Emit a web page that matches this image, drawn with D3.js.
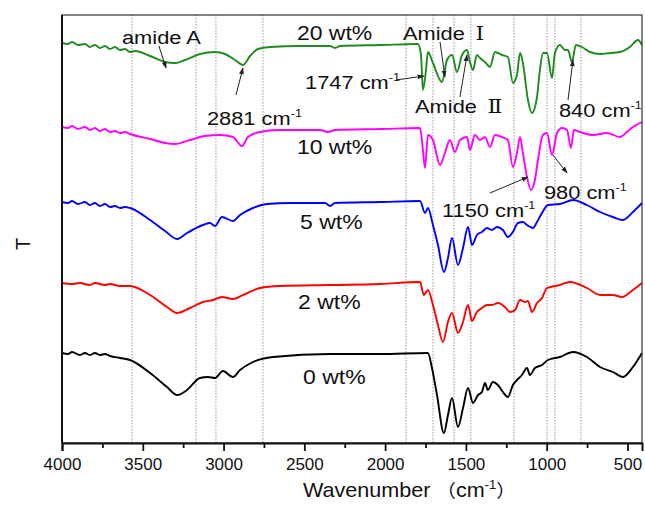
<!DOCTYPE html>
<html>
<head>
<meta charset="utf-8">
<script src="https://cdnjs.cloudflare.com/ajax/libs/d3/7.8.5/d3.min.js"></script>
<style>
body{margin:0;background:#fff;}
svg{font-family:Arial,"Liberation Sans",sans-serif;}
</style>
</head>
<body>
<script>
// spectra, [wavenumber, T] (T in arbitrary offset units)
var green=[[4000,400],[3963,399],[3938,401],[3901,398],[3858,399],[3827,396],[3796,398],[3765,395],[3734,397],[3703,394],[3672,396],[3641,393],[3610,394],[3579,391],[3548,392],[3455,387],[3362,381],[3300,380],[3239,383],[3146,389],[3053,391],[2991,389],[2929,383],[2880,378],[2836,387],[2787,394],[2713,396],[2527,397],[2341,397],[2310,395],[2279,397],[2032,398],[1797,399],[1778,388],[1766,353],[1747,373],[1735,391],[1704,380],[1648,361],[1617,383],[1586,388],[1555,371],[1524,388],[1493,393],[1475,381],[1456,373],[1432,388],[1413,385],[1382,381],[1351,376],[1320,391],[1277,388],[1240,386],[1209,360],[1184,368],[1165,390],[1147,380],[1116,343],[1091,330],[1060,346],[1042,373],[1023,390],[998,390],[967,365],[949,390],[918,398],[887,393],[868,393],[844,381],[819,398],[782,396],[732,391],[670,389],[608,390],[546,391],[485,396],[435,403],[410,398]];
var magenta=[[4000,316],[3963,315],[3938,317],[3901,314],[3858,316],[3827,313],[3796,315],[3765,312],[3734,314],[3703,311],[3672,312],[3641,310],[3610,311],[3579,309],[3455,304],[3362,300],[3300,299],[3208,303],[3115,307],[3022,308],[2942,306],[2886,297],[2849,306],[2775,311],[2651,313],[2403,313],[2354,311],[2310,313],[2032,314],[1784,315],[1766,293],[1753,275],[1735,308],[1704,303],[1660,278],[1630,290],[1599,303],[1568,291],[1537,303],[1493,306],[1475,293],[1444,308],[1413,303],[1382,306],[1351,296],[1320,308],[1277,306],[1240,303],[1209,276],[1184,290],[1165,306],[1147,290],[1122,266],[1097,253],[1073,263],[1054,283],[1023,308],[998,310],[967,288],[936,310],[905,315],[874,313],[850,295],[831,313],[794,311],[713,308],[627,310],[546,306],[503,311],[466,316],[410,321]];
var blue=[[4000,241],[3963,240],[3938,242],[3901,239],[3858,241],[3827,238],[3796,240],[3765,237],[3734,239],[3703,236],[3672,237],[3641,235],[3610,236],[3579,235],[3455,223],[3362,212],[3288,204],[3226,210],[3127,218],[3084,220],[3053,217],[3010,226],[2942,222],[2898,228],[2818,235],[2731,239],[2589,240],[2372,240],[2341,237],[2310,240],[2032,241],[1784,242],[1753,230],[1735,235],[1704,218],[1673,198],[1636,171],[1611,185],[1586,205],[1549,178],[1518,195],[1487,216],[1462,198],[1432,208],[1401,211],[1370,215],[1339,213],[1308,216],[1271,213],[1240,206],[1209,211],[1178,220],[1147,221],[1122,218],[1085,215],[1060,221],[1029,230],[992,238],[918,239],[837,243],[751,238],[670,231],[590,226],[528,223],[466,231],[410,240]];
var red=[[4000,160],[3938,159],[3889,160],[3827,158],[3796,160],[3734,158],[3703,159],[3641,157],[3579,157],[3455,148],[3350,136],[3288,130],[3208,135],[3127,141],[3065,143],[3010,146],[2942,144],[2880,148],[2775,155],[2651,157],[2341,158],[2032,159],[1784,161],[1760,148],[1735,153],[1704,138],[1673,118],[1642,101],[1611,121],[1586,130],[1549,110],[1518,121],[1487,138],[1462,122],[1432,131],[1401,135],[1370,138],[1339,138],[1302,140],[1258,136],[1227,131],[1196,133],[1165,143],[1134,141],[1116,142],[1091,131],[1060,140],[1029,145],[998,155],[918,158],[856,161],[751,155],[670,148],[590,148],[534,146],[466,153],[410,160]];
var black=[[4000,90],[3963,89],[3938,91],[3889,88],[3858,90],[3827,88],[3796,90],[3765,88],[3734,89],[3703,87],[3641,85],[3579,83],[3455,70],[3350,56],[3288,48],[3226,53],[3146,65],[3096,66],[3053,65],[3004,72],[2942,66],[2898,73],[2818,81],[2694,86],[2341,89],[2032,89],[1735,90],[1710,75],[1679,48],[1636,10],[1611,28],[1586,45],[1549,16],[1518,35],[1487,55],[1456,40],[1425,48],[1401,51],[1382,60],[1364,53],[1333,61],[1302,58],[1271,51],[1240,46],[1209,58],[1184,63],[1153,68],[1122,75],[1104,68],[1073,75],[1029,78],[992,83],[918,86],[837,91],[751,86],[670,76],[590,71],[528,66],[466,76],[410,90]];

var seriesNames=["20 wt%","10 wt%","5 wt%","2 wt%","0 wt%"];
var seriesData=[green,magenta,blue,red,black];
var seriesColors=["#1f8a1f","#ff00ff","#0000ff","#ff0000","#000000"];
// label anchor [wavenumber, T]
var seriesLabelPos=[[2546,403],[2546,289],[2527,214],[2539,134],[2508,59]];

var gridLines=[3567,3171,3047,2756,1871,1704,1574,1469,1202,998,949,788];
var majorTicks=[4000,3500,3000,2500,2000,1500,1000,500];
var minorTicks=[3750,3250,2750,2250,1750,1250,750];

// annotations: text, label [wn,T], arrow tail [wn,T], arrow tip [wn,T]
var notes=[
  {t:"amide A",sup:null,at:[3629,399],from:[3400,397],to:[3356,375]},
  {t:"2881 cm",sup:"-1",at:[3103,318],from:[2923,348],to:[2880,375]},
  {t:"1747 cm",sup:"-1",at:[2496,354],from:[1933,363],to:[1760,367]},
  {t:"Amide ",rom:"Ⅰ",at:[1890,403],from:[1660,401],to:[1630,366]},
  {t:"Amide ",rom:"Ⅱ",at:[1815,330],from:[1537,346],to:[1493,388]},
  {t:"840 cm",sup:"-1",at:[924,326],from:[868,343],to:[837,383]},
  {t:"980 cm",sup:"-1",at:[1017,244],from:[961,288],to:[874,270]},
  {t:"1150 cm",sup:"-1",at:[1648,226],from:[1351,250],to:[1116,266]}
];

var W=645,H=505;
var m={left:62,right:642,top:15,bottom:443};
var x=d3.scaleLinear().domain([4000,410]).range([m.left,m.right]);
var y=d3.scaleLinear().domain([0,428]).range([m.bottom,m.top]);

var svg=d3.select("body").append("svg").attr("width",W).attr("height",H);

var defs=svg.append("defs");
defs.append("marker").attr("id","arr")
  .attr("viewBox","0 0 10 10").attr("refX",9).attr("refY",5)
  .attr("markerWidth",7).attr("markerHeight",7)
  .attr("orient","auto-start-reverse")
  .append("path").attr("d","M0,1.5L10,5L0,8.5Z").attr("fill","#222");

// dotted verticals
svg.append("g").selectAll("line").data(gridLines).enter().append("line")
  .attr("x1",function(d){return x(d)}).attr("x2",function(d){return x(d)})
  .attr("y1",m.top).attr("y2",m.bottom)
  .attr("stroke","#9a9a9a").attr("stroke-width",1).attr("stroke-dasharray","1.5,1.5");

// spectra
var line=d3.line().x(function(d){return x(d[0])}).y(function(d){return y(d[1])}).curve(d3.curveMonotoneX);
svg.append("g").selectAll("path").data(seriesData).enter().append("path")
  .attr("d",line).attr("fill","none")
  .attr("stroke",function(d,i){return seriesColors[i]})
  .attr("stroke-width",1.9).attr("stroke-linejoin","round");

// frame
svg.append("rect").attr("x",m.left).attr("y",m.top)
  .attr("width",m.right-m.left).attr("height",m.bottom-m.top)
  .attr("fill","none").attr("stroke","#333").attr("stroke-width",1.2);
svg.append("line").attr("x1",m.left).attr("x2",m.left).attr("y1",m.top).attr("y2",m.bottom)
  .attr("stroke","#111").attr("stroke-width",2);

// bottom axis
var xAxis=d3.axisBottom(x).tickValues(majorTicks).tickSize(8).tickFormat(d3.format("d"));
var gx=svg.append("g").attr("transform","translate(0,"+m.bottom+")").call(xAxis);
gx.select(".domain").attr("stroke","#111").attr("stroke-width",2);
gx.selectAll(".tick line").attr("stroke","#111").attr("stroke-width",1.8);
gx.selectAll(".tick text").attr("font-size",17).attr("fill","#111")
  .attr("font-family","Arial, 'Liberation Sans', sans-serif").attr("dy","0.95em");
var gxm=svg.append("g").attr("transform","translate(0,"+m.bottom+")")
  .call(d3.axisBottom(x).tickValues(minorTicks).tickSize(5).tickFormat(""));
gxm.select(".domain").remove();
gxm.selectAll(".tick line").attr("stroke","#111").attr("stroke-width",1.8);

// axis titles (slightly stretched, like the source image)
var xt=svg.append("text").attr("transform","translate(303,497) scale(1.08,1)")
  .attr("font-size",20).attr("fill","#111");
xt.append("tspan").text("Wavenumber ");
xt.append("tspan").attr("font-family","'Noto Sans CJK SC'").attr("font-size",18).text("（");
xt.append("tspan").text("cm");
xt.append("tspan").attr("font-size",12).attr("dy",-8).text("-1");
xt.append("tspan").attr("dy",8).attr("font-family","'Noto Sans CJK SC'").attr("font-size",18).text("）");

svg.append("text").attr("transform","translate(30,244) rotate(-90)")
  .attr("text-anchor","middle").attr("font-size",20).attr("fill","#111").text("T");

// series labels
svg.append("g").selectAll("text").data(seriesNames).enter().append("text")
  .attr("transform",function(d,i){
    return "translate("+x(seriesLabelPos[i][0])+","+y(seriesLabelPos[i][1])+") scale(1.15,1)";
  })
  .attr("font-size",20).attr("fill","#111").text(function(d){return d});

// annotations
notes.forEach(function(n){
  svg.append("line")
    .attr("x1",x(n.from[0])).attr("y1",y(n.from[1]))
    .attr("x2",x(n.to[0])).attr("y2",y(n.to[1]))
    .attr("stroke","#222").attr("stroke-width",1).attr("marker-end","url(#arr)");
  var t=svg.append("text")
    .attr("transform","translate("+x(n.at[0])+","+y(n.at[1])+") scale(1.15,1)")
    .attr("font-size",19).attr("fill","#111");
  t.append("tspan").text(n.t);
  if(n.sup){
    t.append("tspan").attr("font-size",11).attr("dy",-8).text(n.sup);
  }
  if(n.rom){
    t.append("tspan").attr("dx",4).attr("font-family","'DejaVu Serif', 'Noto Sans CJK SC'").text(n.rom);
  }
});
</script>
</body>
</html>
